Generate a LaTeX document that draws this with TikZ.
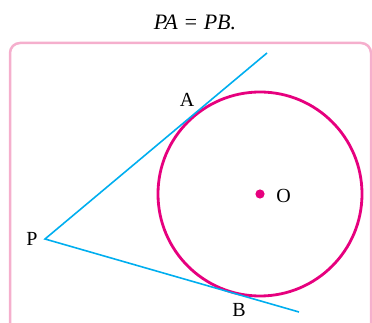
\documentclass[tikz,border=0pt]{standalone}
\usepackage{fontspec}
\setmainfont{Liberation Serif}
\usepackage{xcolor}
\usepackage{tikz}
\definecolor{tanblue}{RGB}{0,174,239}
\definecolor{circmag}{RGB}{230,0,126}
\definecolor{framepink}{RGB}{245,175,205}
\tikzset{
  tangent/.style={tanblue, line width=1.6pt},
  ptlabel/.style={font=\fontsize{20}{24}\selectfont, inner sep=0pt}
}

\begin{document}
\begin{tikzpicture}[x=1pt, y=-1pt]
  \clip (0,0) rectangle (372,323);
  \node[font=\fontsize{22}{26}\selectfont\itshape, inner sep=0pt] (eq) at (195,22) {PA = PB.};
  \draw[framepink, line width=2.5pt, rounded corners=10pt] (10,43) rectangle (371,340);
  \coordinate (O) at (260,194);
  \coordinate (P) at (45,239);
  \coordinate (Aend) at (267,53);
  \coordinate (Bend) at (299,312);
  \draw[circmag, line width=2.8pt] (O) circle (102);
  \fill[circmag] (O) circle (4.6);
  \draw[tangent] (Aend) -- (P) -- (Bend);
  \node[ptlabel] (lP) at (32,239) {P};
  \node[ptlabel] (lA) at (187,100) {A};
  \node[ptlabel] (lB) at (239,310) {B};
  \node[ptlabel] (lO) at (283.5,195.5) {O};
\end{tikzpicture}
\end{document}
